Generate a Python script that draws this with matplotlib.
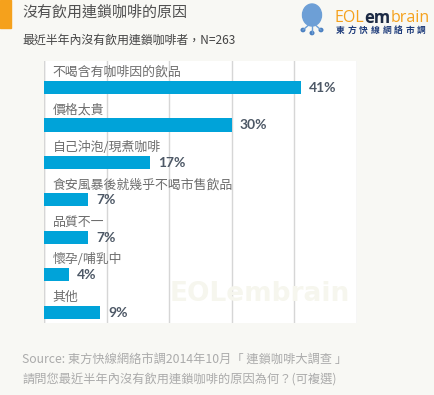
import matplotlib
matplotlib.use("Agg")
import matplotlib.pyplot as plt
from matplotlib.patches import Rectangle, Ellipse, Circle

plt.rcParams['font.family'] = ['Noto Sans CJK TC', 'DejaVu Sans']

categories = ['不喝含有咖啡因的飲品', '價格太貴', '自己沖泡/現煮咖啡',
              '食安風暴後就幾乎不喝市售飲品', '品質不一', '懷孕/哺乳中', '其他']
values = [41, 30, 17, 7, 7, 4, 9]
value_labels = ['41%', '30%', '17%', '7%', '7%', '4%', '9%']

title = '沒有飲用連鎖咖啡的原因'
subtitle = '最近半年內沒有飲用連鎖咖啡者，N=263'
source_lines = ['Source: 東方快線網絡市調2014年10月「 連鎖咖啡大調查 」',
                '請問您最近半年內沒有飲用連鎖咖啡的原因為何？(可複選)']

W, H = 435, 395
bg = '#f8f8f4'
bar_color = '#00a3d9'

fig = plt.figure(figsize=(W / 100, H / 100), dpi=100, facecolor=bg)

# plot area
ax = fig.add_axes([44 / W, 1 - 323 / H, 313 / W, 262 / H])
ax.set_facecolor('white')
ypos = list(range(len(categories)))
ax.barh([y + 0.21 for y in ypos], values, height=0.35, color=bar_color, zorder=3)
for y, v, lab, cat in zip(ypos, values, value_labels, categories):
    ax.text(v + 1.3, y + 0.22, lab, va='center', ha='left', fontsize=10,
            fontweight='bold', color='#4d5866', family=['Lato', 'DejaVu Sans'], zorder=4)
    ax.text(1.4, y - 0.19, cat, va='center', ha='left', fontsize=9.3,
            color='#6e6e6e', zorder=4)
ax.set_xlim(0, 50)
ax.set_ylim(len(categories) - 0.5, -0.5)
ax.set_xticks([0, 10, 20, 30, 40, 50])
ax.set_yticks([])
ax.tick_params(length=0, labelbottom=False)
ax.grid(axis='x', color='#d6d6d6', linewidth=1, zorder=1)
for s in ax.spines.values():
    s.set_visible(False)
ax.axvline(0, color='#d6d6d6', linewidth=1, zorder=2)

# faint watermark
ax.text(0.69, 0.06, 'EOLembrain', transform=ax.transAxes, ha='center', va='bottom',
        fontsize=19, fontweight='bold', color='#f6f6ee',
        zorder=2, family=['DejaVu Sans'])

# header
fig.patches.append(Rectangle((0, 1 - 28 / H), 11 / W, 28 / H, transform=fig.transFigure,
                             color='#f5a11c'))
fig.text(22 / W, 1 - 13 / H, title, fontsize=10.8, color='#505050', va='center', ha='left')
fig.text(22 / W, 1 - 40 / H, subtitle, fontsize=8.6, color='#454545', va='center', ha='left')

# logo
fig.patches.append(Ellipse((312 / W, 1 - 15 / H), 19 / W, 22 / H, transform=fig.transFigure,
                           color='#6d9fd6'))
for dx, dy in [(303, 30), (312, 33), (321, 30)]:
    fig.lines.append(plt.Line2D([312 / W, dx / W], [1 - 22 / H, 1 - dy / H],
                                transform=fig.transFigure, color='#6d9fd6', linewidth=1))
    fig.patches.append(Circle((dx / W, 1 - dy / H), 1.8 / W, transform=fig.transFigure,
                              color='#4a7fc0'))
logo_font = ['Open Sans', 'DejaVu Sans']
renderer = fig.canvas.get_renderer()
x = 335
for part, col, wt, fs in [('EOL', '#f5a11c', 'normal', 11.5),
                          ('em', '#1d2b45', 'bold', 12),
                          ('brain', '#f5a11c', 'normal', 11.5)]:
    t = fig.text(x / W, 1 - 18 / H, part, fontsize=fs, color=col, va='center',
                 ha='left', fontweight=wt, family=logo_font)
    x += t.get_window_extent(renderer).width
for i, ch in enumerate('東方快線網絡市調'):
    fig.text((336 + i * 11.6) / W, 1 - 30.5 / H, ch, fontsize=6.3, color='#1d3b7a',
             va='center', ha='left', fontweight='bold')

# source
for i, line in enumerate(source_lines):
    fig.text(22 / W, 1 - (360 + 20 * i) / H, line, fontsize=8.8, color='#ababab',
             va='center', ha='left')

fig.savefig('out.png', dpi=100, facecolor=bg)
